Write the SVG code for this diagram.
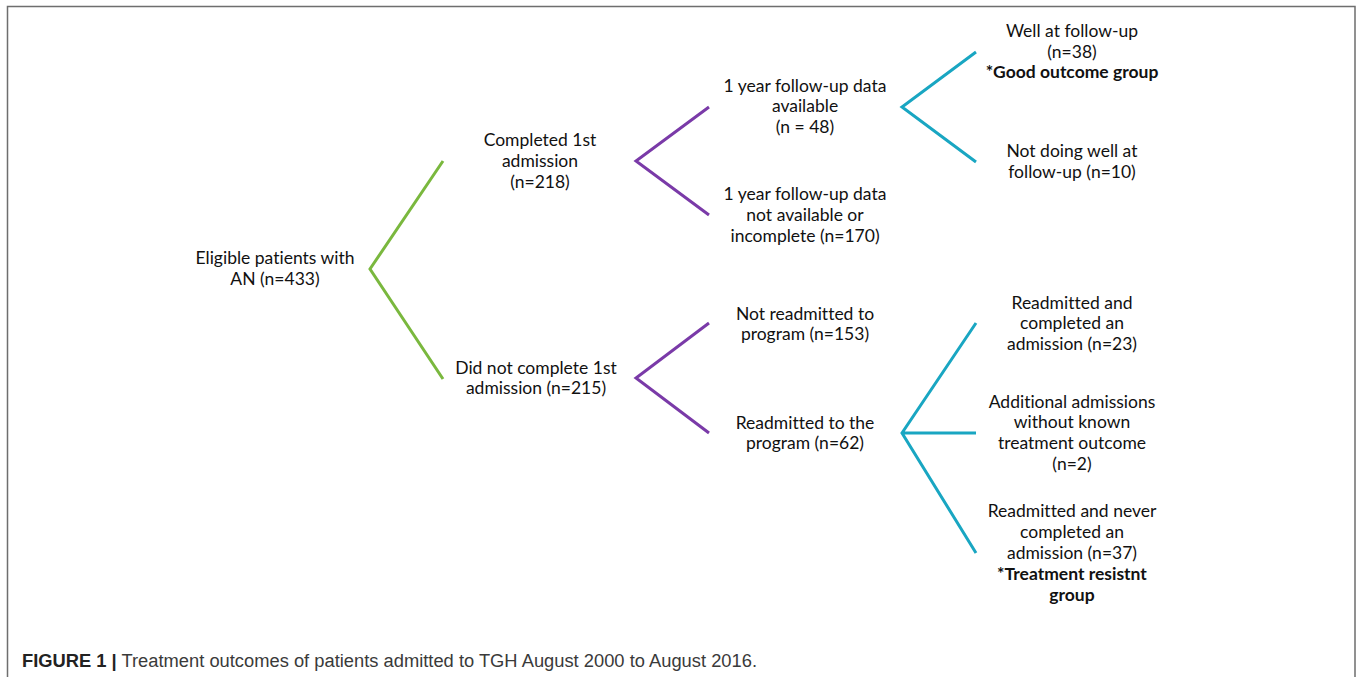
<svg xmlns="http://www.w3.org/2000/svg" width="1358" height="677" viewBox="0 0 1358 677">
<style>
.t{font-family:Lato,"Open Sans","Noto Sans",sans-serif;font-size:17.5px;fill:#111;text-anchor:middle;font-variant-ligatures:none}
.b{font-weight:bold}
.g{stroke:#7ab83e;stroke-width:3;fill:none;stroke-linejoin:miter}
.p{stroke:#7a3aa8;stroke-width:3;fill:none}
.c{stroke:#19a6c2;stroke-width:3;fill:none}
.cap{font-family:"Liberation Sans",Arial,sans-serif;font-size:18px;fill:#3a3a3a}
</style>
<rect width="1358" height="677" fill="#fff"/>
<path d="M7.5,677 V6.5 H1355 V677" fill="none" stroke="#6e6e6e" stroke-width="1.5"/>
<g id="connectors">
<path class="g" d="M443,161 L370,269 L443,379"/>
<path class="p" d="M709,107 L636,161 L709,215"/>
<path class="p" d="M709,323 L636,378 L709,433"/>
<path class="c" d="M976,52 L902,107 L976,162"/>
<path class="c" d="M976,323 L902,433 L976,553 M902,433 H976"/>
</g>
<g id="n_eligible"><text class="t" x="275" y="264">Eligible patients with</text><text class="t" x="275" y="285">AN (n=433)</text></g>
<g id="n_completed"><text class="t" x="540" y="146">Completed 1st</text><text class="t" x="540" y="167">admission</text><text class="t" x="540" y="188">(n=218)</text></g>
<g id="n_notcompleted"><text class="t" x="536" y="374">Did not complete 1st</text><text class="t" x="536" y="394">admission (n=215)</text></g>
<g id="n_fu_avail"><text class="t" x="805" y="92">1 year follow-up data</text><text class="t" x="805" y="112">available</text><text class="t" x="805" y="133">(n = 48)</text></g>
<g id="n_fu_na"><text class="t" x="805" y="200">1 year follow-up data</text><text class="t" x="805" y="221">not available or</text><text class="t" x="805" y="242">incomplete (n=170)</text></g>
<g id="n_well"><text class="t" x="1072" y="37">Well at follow-up</text><text class="t" x="1072" y="58">(n=38)</text><text class="t b" x="1072" y="78">*Good outcome group</text></g>
<g id="n_notwell"><text class="t" x="1072" y="157">Not doing well at</text><text class="t" x="1072" y="178">follow-up (n=10)</text></g>
<g id="n_notreadm"><text class="t" x="805" y="320">Not readmitted to</text><text class="t" x="805" y="340">program (n=153)</text></g>
<g id="n_readm"><text class="t" x="805" y="429">Readmitted to the</text><text class="t" x="805" y="449">program (n=62)</text></g>
<g id="n_readm_comp"><text class="t" x="1072" y="309">Readmitted and</text><text class="t" x="1072" y="329">completed an</text><text class="t" x="1072" y="350">admission (n=23)</text></g>
<g id="n_additional"><text class="t" x="1072" y="408">Additional admissions</text><text class="t" x="1072" y="428">without known</text><text class="t" x="1072" y="449">treatment outcome</text><text class="t" x="1072" y="470">(n=2)</text></g>
<g id="n_never"><text class="t" x="1072" y="517">Readmitted and never</text><text class="t" x="1072" y="538">completed an</text><text class="t" x="1072" y="559">admission (n=37)</text><text class="t b" x="1072" y="580">*Treatment resistnt</text><text class="t b" x="1072" y="601">group</text></g>
<text class="cap" x="22" y="667" textLength="735" lengthAdjust="spacingAndGlyphs"><tspan font-weight="bold" fill="#222">FIGURE 1 |</tspan> Treatment outcomes of patients admitted to TGH August 2000 to August 2016.</text>
</svg>
